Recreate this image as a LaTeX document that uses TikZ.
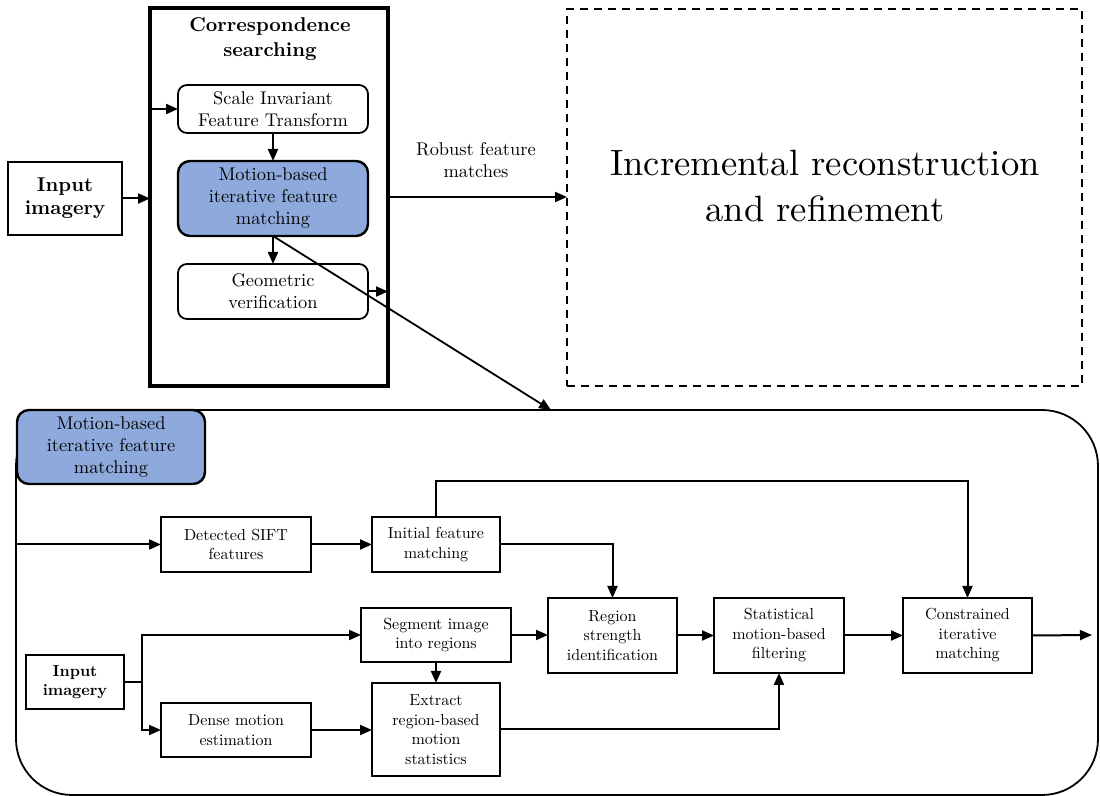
\documentclass[tikz,border=0pt]{standalone}
\usepackage{fontspec}
\setmainfont{lmroman10}[Extension=.otf, UprightFont=*-regular, BoldFont=*-bold,
  ItalicFont=*-italic, BoldItalicFont=*-bolditalic]
\usetikzlibrary{arrows.meta}
\definecolor{mblue}{RGB}{142,170,220}
\begin{document}
\begin{tikzpicture}[x=0.5pt,y=-0.5pt,
  every node/.style={outer sep=0pt},
  arr/.style={-{Triangle[length=6pt,width=5pt]}, line width=1pt},
  rbox/.style={draw, rounded corners=4.5pt, line width=0.9pt, align=center, inner sep=0pt,
    minimum width=95pt, font=\fontsize{9.2}{11}\selectfont},
  bbox/.style={rbox, fill=mblue, line width=1.2pt, rounded corners=6pt},
  sbox/.style={draw, line width=0.8pt, align=center, inner sep=0pt,
    font=\fontsize{8}{9.75}\selectfont},
  txt/.style={align=center, inner sep=0pt, font=\fontsize{9.2}{11}\selectfont}
]
\useasboundingbox (0,0) rectangle (1100,796);

% ---------- correspondence searching stage ----------
\node[draw, line width=1.75pt, minimum width=119pt, minimum height=189pt, inner sep=0pt] (corr) at (269,197) {};
\node[align=center, inner sep=0pt, font=\fontsize{10}{12.5}\selectfont\bfseries] (corrT) at (270,39) {Correspondence\\searching};
\node[draw, line width=0.9pt, minimum width=57pt, minimum height=36.5pt, align=center, inner sep=0pt,
  font=\fontsize{10}{11.5}\selectfont\bfseries] (inA) at (65,198.5) {Input\\imagery};
\node[rbox, minimum height=24pt] (sift) at (273,109) {Scale Invariant\\Feature Transform};
\node[bbox, minimum height=37.5pt] (mot) at (273,198.5) {Motion-based\\iterative feature\\matching};
\node[rbox, minimum height=27.5pt] (geo) at (273,291.5) {Geometric\\verification};

% ---------- reconstruction stage ----------
\node[draw, dash pattern=on 4pt off 3pt, line width=0.8pt, minimum width=257.5pt, minimum height=188.5pt] (rec) at (824.5,197.5) {};
\node[align=center, inner sep=0pt, font=\fontsize{18.3}{23}\selectfont] (recT) at (825,186) {Incremental reconstruction\\and refinement};
\node[txt] (rob) at (476,160.5) {Robust feature\\matches};

\draw[arr] (inA.east) -- (inA.east -| corr.west);
\draw[arr] (sift.west -| corr.west) -- (sift.west);
\draw[arr] (sift.south) -- (mot.north);
\draw[arr] (mot.south) -- (geo.north);
\draw[arr] (geo.east) -- (geo.east -| corr.east);
\draw[arr] (corr.east) -- (corr.east -| rec.west);

% ---------- detail of the motion-based matching ----------
\node[draw, line width=0.9pt, rounded corners=28pt, minimum width=541pt, minimum height=192.5pt] (outer) at (557,602.5) {};
\node[bbox, minimum width=94pt, minimum height=37pt] (lab) at (111,447) {Motion-based\\iterative feature\\matching};

\coordinate (tip) at (551,410);
\draw[arr, line width=0.9pt] (mot.south) -- (tip);

\node[sbox, minimum width=75pt, minimum height=27.5pt] (dsift) at (236,544.5) {Detected SIFT\\features};
\node[sbox, minimum width=64pt, minimum height=27.5pt] (init) at (436,544.5) {Initial feature\\matching};
\node[sbox, minimum width=75pt, minimum height=27pt] (seg) at (436,635) {Segment image\\into regions};
\node[sbox, minimum width=64pt, minimum height=46.5pt] (ext) at (436,729.5) {Extract\\region-based\\motion\\statistics};
\node[sbox, minimum width=75pt, minimum height=27pt] (dense) at (236,730) {Dense motion\\estimation};
\node[sbox, minimum width=49pt, minimum height=27pt, font=\fontsize{8}{9.75}\selectfont\bfseries] (inB) at (75,682) {Input\\imagery};
\node[sbox, minimum width=64.5pt, minimum height=37.5pt] (reg) at (612.5,635.5) {Region\\strength\\identification};
\node[sbox, minimum width=65pt, minimum height=37.5pt] (stat) at (779,635.5) {Statistical\\motion-based\\filtering};
\node[sbox, minimum width=64.5pt, minimum height=37.5pt] (cons) at (967.5,635.5) {Constrained\\iterative\\matching};

\coordinate (out) at (1092,635);
\coordinate (br) at (142,682);

\draw[arr] (outer.west |- dsift.west) -- (dsift.west);
\draw[arr] (dsift.east) -- (init.west);
\draw[arr] (init.north) -- ++(0,-36) -| (cons.north);
\draw[arr] (init.east) -| (reg.north);
\draw[arr] (seg.east) -- (seg.east -| reg.west);
\draw[arr] (reg.east) -- (stat.west);
\draw[arr] (stat.east) -- (cons.west);
\draw[arr] (cons.east) -- (out);
\draw[arr] (seg.south) -- (ext.north);
\draw[arr] (ext.east) -| (stat.south);
\draw[arr] (dense.east) -- (dense.east -| ext.west);
\draw[line width=1pt] (inB.east) -- (br);
\draw[arr] (br) |- (seg.west);
\draw[arr] (br) |- (dense.west);
\end{tikzpicture}
\end{document}
